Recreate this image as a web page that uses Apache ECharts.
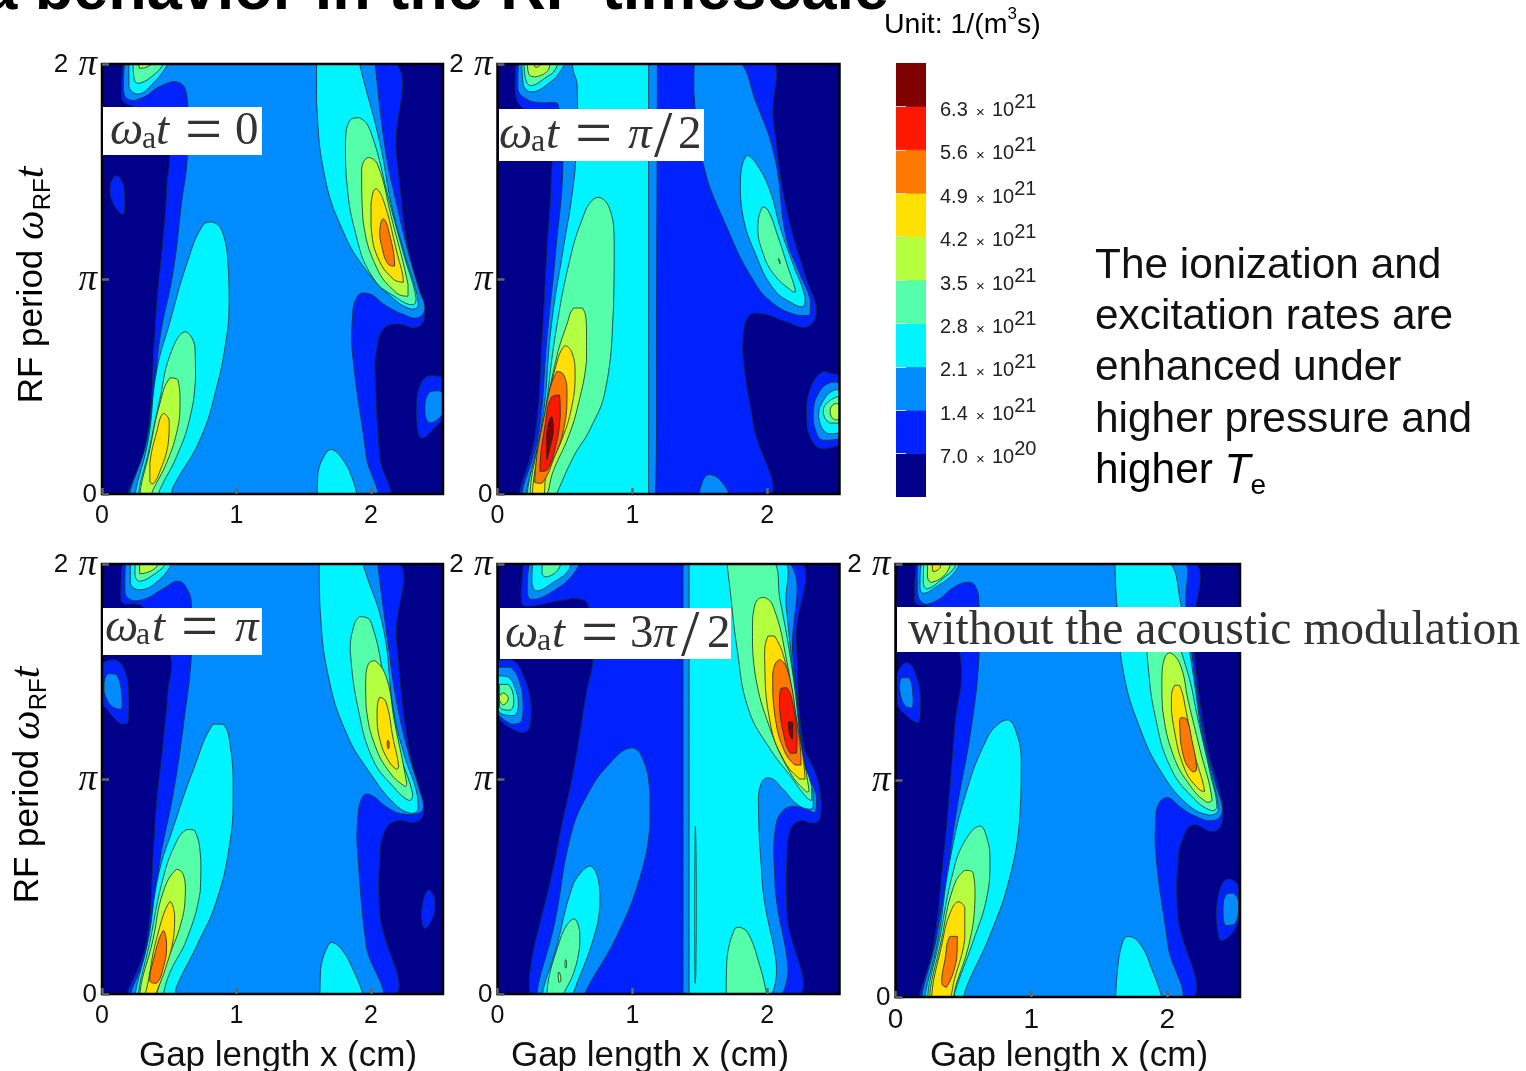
<!DOCTYPE html>
<html><head><meta charset="utf-8">
<style>html,body{margin:0;padding:0;background:#fff;overflow:hidden}#c{width:1526px;height:1071px}</style>
<script src="https://cdn.jsdelivr.net/npm/echarts@6/dist/echarts.min.js"></script>
</head><body><div id="c"></div>
<script>
// Fill colours of the ten bands, lowest to highest
const bandColors = ['#00008b','#0022ff','#008cff','#00f4ff','#55ffaa','#b4ff40','#ffe000','#ff7800','#ff1800','#7f0000'];
// Colour bar tick values, in units of 10^21 1/(m^3 s)
const barTicks = [0.7,1.4,2.1,2.8,3.5,4.2,4.9,5.6,6.3];
const barLabels = [['7.0','20'],['1.4','21'],['2.1','21'],['2.8','21'],['3.5','21'],['4.2','21'],['4.9','21'],['5.6','21'],['6.3','21']];
const barBands = [0,1,2,3,4,5,6,7,8,9];
const xTicks = [0,1,2];
const yTicks = [0,1,2];
const gapMax = 2.535;

// Contours: [band, [gap cm, phase/pi, gap cm, phase/pi, ...]]
const contoursA = [
[1,[.195,-.03,.33,.24,.39,.72,.41,.91,.455,1.195,.48,1.415,.48,1.635,.28,1.785,.146,1.84,.17,2.03,2.11,2.03,2.19,1.57,2.29,1.09,2.385,.9,2.4,.82,2.335,.775,2.19,.79,2.09,.765,2.04,.66,2.03,.57,2.065,.175,2.1,-.03]],
[1,[.06,1.415,.097,1.48,.146,1.46,.17,1.37,.16,1.3,.097,1.335]],
[1,[2.337,.41,2.375,.52,2.45,.55,2.56,.52,2.56,.38,2.46,.3,2.38,.26,2.345,.3]],
[2,[.196,2.03,.16,1.885,.196,1.835,.307,1.845,.43,1.895,.567,1.915,.63,1.855,.634,1.57,.59,1.35,.53,1.04,.43,.725,.39,.49,.33,.24,.22,-.03,2,-.03,1.965,.175,1.866,.63,1.86,.8,1.9,.92,1.99,.93,2.1,.88,2.24,.835,2.35,.82,2.4,.865,2.36,.945,2.275,1.13,2.19,1.35,2.11,1.59,2.03,2,2.03,2.03]],
[2,[2.4,.395,2.435,.475,2.51,.48,2.57,.43,2.51,.355,2.435,.33]],
[3,[.2,2.03,.2,1.895,.27,1.86,.38,1.91,.49,2,.5,2.03]],
[3,[.245,-.03,.345,.255,.405,.57,.505,.8,.63,1.07,.75,1.25,.825,1.265,.9,1.21,.94,1.04,.945,.88,.925,.725,.85,.49,.73,.255,.53,.035,.49,-.03]],
[3,[1.6,-.03,1.605,.095,1.655,.18,1.705,.207,1.79,.16,1.865,.065,1.9,-.03]],
[3,[1.595,2.03,1.595,1.82,1.655,1.48,1.79,1.225,1.965,1.04,2.165,.91,2.3,.86,2.35,.875,2.335,.945,2.25,1.115,2.15,1.35,2.065,1.635,1.915,2,1.915,2.03]],
[4,[.23,2.03,.24,1.925,.28,1.91,.395,1.955,.455,2,.46,2.03]],
[4,[.27,-.03,.355,.22,.43,.44,.505,.645,.615,.755,.69,.69,.695,.535,.65,.345,.555,.175,.43,.02,.405,-.03]],
[4,[1.81,1.635,1.84,1.735,1.915,1.75,2,1.68,2.14,1.35,2.25,1.1,2.335,.91,2.31,.88,2.21,.905,2.015,1.005,1.88,1.225,1.815,1.48]],
[5,[.27,2.03,.28,1.98,.36,1.995,.37,2.03]],
[5,[.28,-.03,.355,.205,.43,.42,.505,.54,.565,.53,.58,.41,.555,.285,.48,.145,.38,.02,.345,-.03]],
[5,[1.93,1.51,1.98,1.565,2.05,1.53,2.15,1.29,2.275,.975,2.275,.92,2.19,.935,2.04,1.055,1.94,1.275]],
[6,[.356,.058,.356,.145,.405,.285,.455,.375,.5,.34,.49,.225,.43,.105,.38,.047]],
[6,[2,1.35,2.035,1.42,2.09,1.37,2.19,1.13,2.24,.985,2.165,1,2.05,1.1,2,1.24]],
[7,[2.065,1.225,2.09,1.28,2.125,1.24,2.175,1.06,2.125,1.07,2.075,1.165]]
];
const contoursB = [
[1,[.168,-.03,.28,.28,.33,.715,.365,1.12,.4,1.49,.39,1.705,.155,1.815,.13,1.905,.168,2.03,1.98,2.03,2.045,1.735,2.14,1.335,2.29,1,2.365,.87,2.35,.81,2.28,.775,2.145,.8,1.945,.84,1.86,.825,1.82,.715,1.835,.56,1.895,.33,1.97,-.03]],
[1,[2.29,.36,2.315,.485,2.415,.57,2.515,.555,2.575,.555,2.575,.265,2.415,.21,2.33,.25]],
[2,[.168,2.03,.15,1.885,.22,1.835,.32,1.82,.43,1.82,.45,1.81,.485,1.55,.43,1.12,.365,.715,.305,.28,.19,-.03,1.17,-.03,1.18,1.025,1.185,2.03]],
[2,[1.465,2.03,1.455,1.875,1.525,1.535,1.7,1.24,1.895,.995,2.045,.885,2.23,.83,2.315,.83,2.32,.9,2.24,1.025,2.14,1.195,2.055,1.565,1.92,1.815,1.76,2.03]],
[2,[1.49,-.03,1.515,.05,1.565,.09,1.65,.065,1.735,-.03]],
[2,[2.34,.375,2.38,.47,2.475,.52,2.575,.515,2.575,.28,2.415,.25,2.355,.3]],
[3,[.18,2.03,.19,1.905,.255,1.87,.39,1.915,.475,1.975,.51,2.03]],
[3,[.205,-.03,.33,.33,.4,.79,.49,1.15,.55,1.38,.58,1.565,.59,1.905,.56,1.975,.565,2.03,1.12,2.03,1.12,1,1.12,-.03]],
[3,[1.8,1.46,1.85,1.575,1.92,1.535,2.02,1.41,2.095,1.24,2.19,1.07,2.28,.915,2.265,.87,2.19,.885,2.045,.955,1.91,1.12,1.82,1.29]],
[3,[2.38,.36,2.415,.435,2.5,.485,2.575,.485,2.575,.305,2.45,.28]],
[4,[.22,-.03,.34,.33,.43,.745,.54,1.1,.635,1.29,.7,1.365,.76,1.38,.835,1.32,.865,1.18,.86,.87,.8,.485,.685,.3,.565,.175,.43,-.01,.415,-.03]],
[4,[.195,2.03,.205,1.94,.245,1.9,.365,1.94,.43,1.975,.45,2.03]],
[4,[1.93,1.24,1.965,1.335,2.005,1.32,2.08,1.195,2.145,1.07,2.21,.94,2.19,.94,2.045,1.025,1.96,1.135]],
[4,[2.415,.385,2.465,.435,2.575,.46,2.575,.33,2.465,.33]],
[5,[.22,2.03,.23,1.955,.28,1.94,.38,1.975,.39,2.03]],
[5,[.24,-.03,.35,.36,.44,.64,.515,.79,.565,.865,.63,.865,.66,.775,.66,.62,.6,.42,.525,.265,.415,.11,.34,-.03]],
[5,[2.08,1.095,2.09,1.09,2.095,1.07,2.085,1.085]],
[5,[2.465,.385,2.5,.42,2.575,.415,2.575,.36,2.5,.345]],
[6,[.26,2.03,.28,1.985,.31,1.99,.33,2.03]],
[6,[.255,-.03,.365,.39,.43,.59,.5,.69,.55,.66,.575,.56,.55,.405,.475,.25,.365,.095,.33,-.03]],
[7,[.275,.055,.36,.405,.44,.57,.49,.555,.515,.47,.49,.3,.415,.16,.33,.05]],
[8,[.315,.105,.355,.33,.4,.45,.46,.46,.465,.36,.425,.205,.365,.11]],
[9,[.365,.16,.365,.28,.4,.36,.415,.3,.385,.205]]
];
const contoursD = [
[1,[.195,-.03,.33,.24,.385,.7,.405,.885,.455,1.17,.49,1.405,.505,1.58,.305,1.8,.14,1.83,.17,2.03,2.14,2.03,2.19,1.64,2.275,1.17,2.375,.915,2.39,.84,2.335,.8,2.19,.805,2.105,.76,2.065,.62,2.065,.38,2.125,-.03]],
[1,[-.02,1.515,.085,1.555,.17,1.505,.2,1.375,.195,1.265,.145,1.255,.035,1.325,-.02,1.375]],
[1,[2.375,.38,2.425,.485,2.475,.445,2.475,.38,2.4,.305]],
[2,[.195,2.03,.17,1.895,.195,1.84,.307,1.835,.455,1.885,.567,1.92,.64,1.875,.665,1.8,.665,1.58,.605,1.25,.53,.935,.43,.62,.345,.225,.22,-.03,2.04,-.03,1.965,.225,1.905,.62,1.9,.805,1.94,.92,2,.925,2.115,.87,2.215,.84,2.35,.84,2.39,.87,2.36,.95,2.285,1.105,2.19,1.36,2.125,1.64,2.05,2,2.05,2.03]],
[2,[.015,1.45,.047,1.49,.11,1.485,.15,1.375,.145,1.325,.07,1.34,.015,1.405]],
[3,[.22,2.03,.21,1.91,.285,1.88,.405,1.915,.515,1.995,.53,2.03]],
[3,[.245,-.03,.345,.255,.42,.555,.53,.775,.68,1.045,.825,1.255,.9,1.255,.95,1.17,.975,.935,.95,.7,.85,.43,.705,.225,.555,.035,.53,-.03]],
[3,[1.62,-.03,1.625,.115,1.68,.225,1.715,.24,1.79,.2,1.865,.115,1.94,0,1.945,-.03]],
[3,[1.615,2.03,1.62,1.8,1.68,1.485,1.815,1.215,1.99,1.03,2.175,.885,2.3,.84,2.35,.86,2.335,.95,2.25,1.105,2.165,1.325,2.09,1.705,1.94,2,1.94,2.03]],
[4,[.255,2.03,.245,1.95,.28,1.92,.405,1.96,.47,2,.48,2.03]],
[4,[.27,-.03,.355,.24,.455,.54,.555,.71,.63,.765,.69,.76,.735,.62,.73,.475,.63,.255,.505,.1,.455,0,.445,-.03]],
[4,[1.845,1.595,1.855,1.67,1.915,1.755,2,1.73,2.125,1.36,2.2,1.14,2.31,.93,2.285,.9,2.165,.965,2.015,1.09,1.905,1.325]],
[5,[.28,2.03,.28,1.955,.395,1.98,.42,2.03]],
[5,[.28,-.03,.38,.255,.455,.475,.555,.58,.605,.555,.62,.475,.59,.335,.48,.145,.405,0,.395,-.03]],
[5,[1.96,1.45,1.98,1.535,2.03,1.55,2.115,1.47,2.175,1.265,2.265,.98,2.255,.965,2.14,1.03,2.03,1.155,1.965,1.325]],
[6,[.3,-.03,.33,.02,.405,.255,.505,.43,.54,.365,.53,.255,.47,.115,.405,.005,.395,-.03]],
[6,[2.045,1.295,2.065,1.38,2.11,1.36,2.165,1.185,2.205,1.06,2.19,1.045,2.125,1.09,2.065,1.185]],
[7,[.355,.06,.37,.13,.455,.295,.48,.225,.455,.12,.405,.05]],
[7,[2.125,1.18,2.135,1.17,2.13,1.14,2.12,1.16]]
];
const contoursE = [
[1,[.255,-.03,.45,.7,.565,1.045,.66,1.405,.71,1.58,.675,1.8,.625,1.835,.465,1.83,.255,1.805,.18,1.815,.175,1.875,.23,2.03,2.19,2.03,2.215,1.64,2.265,1.17,2.365,1.015,2.4,.885,2.39,.815,2.34,.795,2.24,.805,2.17,.76,2.145,.62,2.145,.38,2.18,-.03]],
[1,[-.01,1.555,.105,1.555,.19,1.485,.25,1.34,.24,1.24,.17,1.215,-.01,1.31]],
[2,[.265,2.03,.22,1.875,.255,1.835,.415,1.875,.565,1.955,.62,2.03]],
[2,[.29,-.03,.425,.335,.54,.73,.66,.92,.835,1.075,.995,1.145,1.08,1.09,1.13,.935,1.13,.775,1.055,.54,.885,.27,.66,.02,.635,-.03]],
[2,[1.375,2.03,1.375,1,1.375,-.03,2.08,-.03,2.055,.54,2.055,.745,2.12,.855,2.255,.87,2.355,.845,2.365,.915,2.29,1.045,2.24,1.23,2.19,1.565,2.13,2.03]],
[2,[.005,1.52,.095,1.52,.17,1.44,.19,1.34,.18,1.27,.105,1.255,-.01,1.33]],
[3,[.29,2.03,.255,1.925,.29,1.875,.415,1.915,.525,1.97,.55,2.03]],
[3,[.33,-.03,.44,.225,.55,.49,.625,.57,.69,.595,.75,.525,.76,.415,.71,.255,.56,0,.55,-.03]],
[3,[1.42,2.03,1.42,1,1.42,-.03,2.01,-.03,1.96,.54,1.935,.855,1.955,.98,2.02,1.005,2.12,.95,2.215,.885,2.3,.86,2.34,.87,2.34,.93,2.265,1.09,2.205,1.405,2.14,1.8,2.095,2.03]],
[3,[.005,1.48,.08,1.475,.14,1.405,.155,1.34,.12,1.295,.005,1.32]],
[4,[.34,2.03,.33,1.955,.365,1.94,.45,1.975,.475,2.03]],
[4,[.365,-.03,.465,.255,.565,.35,.61,.29,.61,.225,.565,.1,.49,0,.475,-.03]],
[4,[1.7,2.03,1.725,1.875,1.775,1.61,1.86,1.325,2.02,1.14,2.17,1.015,2.29,.915,2.33,.9,2.33,.96,2.265,1.105,2.19,1.485,2.095,1.83,2.02,2.03]],
[4,[1.695,-.03,1.7,.16,1.76,.305,1.8,.31,1.86,.28,1.945,.13,1.995,0,2,-.03]],
[4,[1.467,.78,1.473,.5,1.47,.1,1.465,.05,1.462,.3,1.463,.6]],
[4,[.015,1.44,.08,1.44,.12,1.37,.095,1.32,.015,1.335]],
[5,[.45,.1,.46,.1,.47,.06,.455,.055]],
[5,[.505,.16,.512,.15,.508,.12,.5,.13]],
[5,[1.89,1.69,1.91,1.815,1.97,1.845,2.045,1.8,2.145,1.545,2.215,1.265,2.31,.945,2.29,.94,2.17,1.03,2.02,1.235,1.91,1.485]],
[5,[.015,1.385,.045,1.4,.08,1.375,.045,1.345,.015,1.365]],
[6,[1.98,1.565,2.005,1.665,2.055,1.665,2.145,1.515,2.215,1.28,2.28,1,2.24,1,2.12,1.09,2.02,1.265]],
[7,[2.04,1.465,2.055,1.53,2.095,1.555,2.155,1.495,2.215,1.28,2.25,1.065,2.205,1.065,2.12,1.14,2.055,1.3]],
[8,[2.09,1.345,2.1,1.42,2.145,1.425,2.19,1.345,2.22,1.195,2.215,1.12,2.17,1.12,2.12,1.21]],
[9,[2.155,1.265,2.19,1.265,2.185,1.185,2.165,1.21]]
];
const contoursC = [
[1,[.18,-.03,.28,.24,.35,.63,.39,.895,.435,1.24,.475,1.58,.3,1.785,.14,1.825,.14,1.91,.18,2.03,2.14,2.03,2.19,1.64,2.29,1.175,2.39,.94,2.41,.85,2.39,.785,2.325,.765,2.19,.795,2.12,.74,2.08,.63,2.075,.395,2.13,-.03]],
[1,[.01,1.485,.08,1.545,.14,1.505,.185,1.38,.17,1.265,.08,1.3,.01,1.36]],
[1,[2.36,.395,2.4,.52,2.46,.545,2.525,.505,2.525,.35,2.4,.26,2.365,.33]],
[2,[.18,2.03,.16,1.89,.2,1.82,.3,1.83,.425,1.89,.52,1.915,.585,1.9,.615,1.81,.615,1.58,.56,1.255,.45,.865,.375,.55,.3,.27,.205,-.03,2.055,-.03,2.005,.24,1.92,.63,1.915,.815,1.94,.895,2.005,.92,2.09,.88,2.19,.84,2.34,.815,2.405,.86,2.36,.975,2.275,1.175,2.2,1.49,2.14,1.8,2.07,2.03]],
[2,[.03,1.425,.045,1.475,.1,1.475,.13,1.38,.125,1.335,.07,1.345]],
[2,[2.41,.41,2.435,.475,2.485,.48,2.525,.435,2.5,.34,2.425,.33]],
[3,[.205,2.03,.18,1.895,.205,1.865,.3,1.895,.425,1.955,.485,2.03]],
[3,[.215,-.03,.315,.27,.4,.63,.525,.955,.67,1.19,.755,1.26,.83,1.28,.89,1.22,.925,1.1,.915,.83,.84,.55,.695,.285,.535,.065,.5,0,.485,-.03]],
[3,[1.62,-.03,1.63,.1,1.665,.24,1.71,.28,1.8,.245,1.895,.115,1.96,0,1.97,-.03]],
[3,[1.615,2.03,1.63,1.8,1.68,1.49,1.8,1.24,1.945,1.05,2.14,.895,2.31,.84,2.375,.865,2.34,.99,2.265,1.175,2.19,1.49,2.105,1.8,1.98,2.03]],
[4,[.215,2.03,.205,1.91,.235,1.885,.35,1.935,.435,1.985,.45,2.03]],
[4,[.235,-.03,.325,.27,.425,.58,.51,.72,.62,.79,.67,.74,.695,.63,.67,.455,.57,.255,.435,.02,.425,-.03]],
[4,[1.85,1.66,1.92,1.76,2,1.74,2.14,1.52,2.23,1.27,2.315,1.035,2.365,.88,2.33,.86,2.19,.92,2.02,1.065,1.91,1.3,1.86,1.52]],
[5,[.235,2.03,.235,1.94,.265,1.915,.375,1.96,.41,2.03]],
[5,[.25,-.03,.34,.27,.425,.505,.51,.585,.57,.575,.585,.455,.55,.27,.45,.065,.39,-.03]],
[5,[1.96,1.47,1.98,1.565,2.02,1.59,2.095,1.535,2.155,1.365,2.24,1.145,2.33,.91,2.29,.9,2.17,.975,2.045,1.115,1.965,1.33]],
[6,[.27,2.03,.275,1.965,.325,1.98,.34,2.03]],
[6,[.265,-.03,.35,.27,.4,.385,.46,.44,.51,.41,.51,.27,.435,.085,.375,-.03]],
[6,[2.03,1.38,2.055,1.44,2.09,1.44,2.14,1.315,2.19,1.145,2.275,.95,2.24,.955,2.13,1.05,2.045,1.255]],
[7,[.34,.065,.365,.175,.4,.28,.455,.28,.45,.175,.375,.045]],
[7,[2.09,1.27,2.1,1.29,2.14,1.285,2.18,1.19,2.215,1.05,2.185,1.04,2.12,1.11]]
];

const SANS = '"Liberation Sans", Arial, sans-serif';
const SERIF = '"Liberation Serif", "Times New Roman", serif';
const panels = [
  {c:contoursA, l:102,   r:443,    t:64,  b:494},
  {c:contoursB, l:497.5, r:839.5,  t:64,  b:494},
  {c:contoursD, l:102,   r:443,    t:564, b:994},
  {c:contoursE, l:497.5, r:839.5,  t:564, b:994},
  {c:contoursC, l:895.5, r:1240,   t:564, b:997, big:true}
];
const grids=[],xAxes=[],yAxes=[],series=[];
panels.forEach((p,i)=>{
  grids.push({left:p.l,top:p.t,width:p.r-p.l,height:p.b-p.t,show:true,backgroundColor:bandColors[0],borderWidth:0});
  xAxes.push({gridIndex:i,type:'value',min:0,max:gapMax,z:10,
    axisLine:{show:false},splitLine:{show:false},
    axisTick:{show:true,inside:true,length:6,customValues:xTicks,lineStyle:{color:'#666',width:2.5}},
    axisLabel:{show:true,customValues:xTicks,margin:p.big?9:10,fontFamily:SANS,fontSize:p.big?28:25,color:'#111',formatter:v=>String(Math.round(v))}});
  yAxes.push({gridIndex:i,type:'value',min:0,max:2,interval:1,z:10,
    axisLine:{show:false},splitLine:{show:false},
    axisTick:{show:true,inside:true,length:7,lineStyle:{color:'#666',width:2.5}},
    axisLabel:{show:true,margin:5,fontFamily:SANS,fontSize:26,color:'#111',padding:[2,0,0,0],
      formatter:v=>v===0?'0':(v===1?'{p|π}':'2 {p|π}'),
      rich:{p:{fontFamily:SERIF,fontStyle:'italic',fontSize:37,color:'#111',padding:[0,0,0,3]}}}});
  series.push({type:'custom',xAxisIndex:i,yAxisIndex:i,coordinateSystem:'cartesian2d',clip:true,silent:true,z:2,
    data:p.c.map((c,k)=>[k,c[0]]),
    renderItem:(params,api)=>{
      const c=p.c[api.value(0)], f=c[1], pts=[];
      for(let k=0;k<f.length;k+=2) pts.push(api.coord([f[k],f[k+1]]));
      return {type:'polygon',z2:api.value(0),shape:{points:pts,smooth:0.45,smoothConstraint:[pts[0],pts[0]]},
        style:{fill:bandColors[c[0]],stroke:'rgba(20,45,50,0.8)',lineWidth:1}};
    }});
  series.push({type:'custom',xAxisIndex:i,yAxisIndex:i,coordinateSystem:'cartesian2d',clip:false,silent:true,z:8,
    data:[[0,0]],
    renderItem:(params,api)=>{
      const a=api.coord([0,2]),b=api.coord([gapMax,0]);
      return {type:'rect',shape:{x:a[0],y:a[1],width:b[0]-a[0],height:b[1]-a[1]},style:{fill:'none',stroke:'#000',lineWidth:2.5}};
    }});
});
// colour bar
const barIdx=panels.length;
grids.push({left:896,top:63,width:30,height:434,show:false});
xAxes.push({gridIndex:barIdx,type:'value',min:0,max:1,show:false});
yAxes.push({gridIndex:barIdx,type:'value',min:0,max:7,interval:0.7,position:'right',z:10,
  axisLine:{show:false},splitLine:{show:false},
  axisTick:{show:true,length:10,customValues:barTicks,lineStyle:{color:'#d8d8e0',width:1}},
  axisLabel:{show:true,customValues:barTicks,margin:14,align:'left',
    formatter:v=>{const k=barTicks.findIndex(t=>Math.abs(t-v)<1e-6);const b=barLabels[k];if(!b)return '';return '{n|'+b[0]+'}{x| × }{n|10}{s|'+b[1]+'}';},
    rich:{n:{fontFamily:SANS,fontSize:20,color:'#222',lineHeight:28,verticalAlign:'bottom'},
          x:{fontFamily:SANS,fontSize:15,color:'#222',lineHeight:28,verticalAlign:'bottom',padding:[0,3,0,4]},
          s:{fontFamily:SANS,fontSize:20,color:'#222',lineHeight:28,verticalAlign:'top'}}}});
series.push({type:'custom',xAxisIndex:barIdx,yAxisIndex:barIdx,coordinateSystem:'cartesian2d',silent:true,clip:true,z:2,
  data:barBands.map(b=>[b,0]),
  renderItem:(params,api)=>{
    const b=api.value(0),a=api.coord([0,(b+1)*0.7]),c=api.coord([1,b*0.7]);
    return {type:'rect',shape:{x:a[0],y:a[1],width:c[0]-a[0],height:c[1]-a[1]},style:{fill:bandColors[b],stroke:bandColors[b],lineWidth:0.6}};
  }});

// math labels: one text per glyph group, placed on a common baseline
const mathStyles={
  i:{f:'italic 47px '+SERIF,s:47},
  a:{f:'32px '+SERIF,s:32,dy:4},
  r:{f:'47px '+SERIF,s:47},
  e:{f:'66px '+SERIF,s:66,dy:6.7},
  q:{f:'66px '+SERIF,s:66,dy:8.5}
};
function mathBox(l,t,r,b,base,tokens){
  const out=[{type:'rect',z:100,shape:{x:l,y:t,width:r-l,height:b-t},style:{fill:'#fff'}}];
  tokens.forEach(k=>{const st=mathStyles[k[0]];
    out.push({type:'text',z:101,x:k[2],y:base+(st.dy||0)-0.25*st.s,style:{text:k[1],font:st.f,fill:'#333',verticalAlign:'middle',align:'left'}});});
  return out;
}
const elements=[].concat(
  mathBox(103,107,262,155,143.5,[['i','ω',110],['a','a',142],['i','t',156],['e','=',185],['r','0',235]]),
  mathBox(499,109,704,161,147,[['i','ω',499],['a','a',531],['i','t',546],['e','=',575],['i','π',628],['q','/',654],['r','2',678]]),
  mathBox(103,608,262,655,640,[['i','ω',105],['a','a',136],['i','t',152],['e','=',181],['i','π',235]]),
  mathBox(500,608,731,659,646,[['i','ω',505],['a','a',537],['i','t',552],['e','=',581],['r','3',630],['i','π',653],['q','/',681],['r','2',707]]),
  [{type:'rect',z:100,shape:{x:897,y:607,width:626,height:45},style:{fill:'#fff'}},
   {type:'text',z:101,x:908,y:631,style:{text:'without the acoustic modulation',font:'47.6px '+SERIF,fill:'#333',verticalAlign:'middle'}}]
);
const yTitleRich={
  n:{fontFamily:SANS,fontSize:35,color:'#111',lineHeight:46},
  w:{fontFamily:SERIF,fontStyle:'italic',fontSize:42,color:'#111',lineHeight:46},
  s:{fontFamily:SANS,fontSize:24,color:'#111',lineHeight:46,verticalAlign:'bottom'},
  t:{fontFamily:SERIF,fontStyle:'italic',fontSize:42,color:'#111',lineHeight:46}
};
[[32,285],[28,785]].forEach(q=>elements.push({type:'text',z:50,x:q[0],y:q[1],rotation:Math.PI/2,
  style:{text:'{n|RF period }{w|ω}{s|RF}{t|t}',rich:yTitleRich,align:'center',verticalAlign:'middle'}}));
[[278,1056],[650,1056],[1069,1056]].forEach(q=>elements.push({type:'text',z:50,x:q[0],y:q[1],
  style:{text:'Gap length x (cm)',font:'35px '+SANS,fill:'#111',align:'center',verticalAlign:'middle'}}));
elements.push({type:'text',z:50,x:889,y:-8,style:{text:'a behavior in the RF timescale',font:'bold 63px '+SANS,fill:'#000',align:'right',verticalAlign:'middle'}});
elements.push({type:'text',z:50,x:884,y:23,style:{
  text:'{a|Unit: 1/(m}{b|3}{a|s)}',align:'left',verticalAlign:'middle',
  rich:{a:{fontFamily:SANS,fontSize:28.5,color:'#111',lineHeight:34,verticalAlign:'bottom'},b:{fontFamily:SANS,fontSize:17,color:'#111',lineHeight:34,verticalAlign:'top'}}}});
const noteLines=['The ionization and','excitation rates are','enhanced under','higher pressure and'];
noteLines.forEach((t,i)=>elements.push({type:'text',z:50,x:1095,y:266+i*51.4,style:{text:t,font:'42.4px '+SANS,fill:'#111',verticalAlign:'middle'}}));
elements.push({type:'text',z:50,x:1095,y:471.5,style:{text:'{a|higher }{t|T}{e|e}',verticalAlign:'middle',
  rich:{a:{fontFamily:SANS,fontSize:42.4,color:'#111',lineHeight:58},t:{fontFamily:SANS,fontStyle:'italic',fontSize:42.4,color:'#111',lineHeight:58},e:{fontFamily:SANS,fontSize:28,color:'#111',lineHeight:58,verticalAlign:'bottom'}}}});

const chart=echarts.init(document.getElementById('c'),null,{renderer:'canvas',width:1526,height:1071});
chart.setOption({animation:false,backgroundColor:'#fff',grid:grids,xAxis:xAxes,yAxis:yAxes,series:series,graphic:{elements:elements}});
</script></body></html>
